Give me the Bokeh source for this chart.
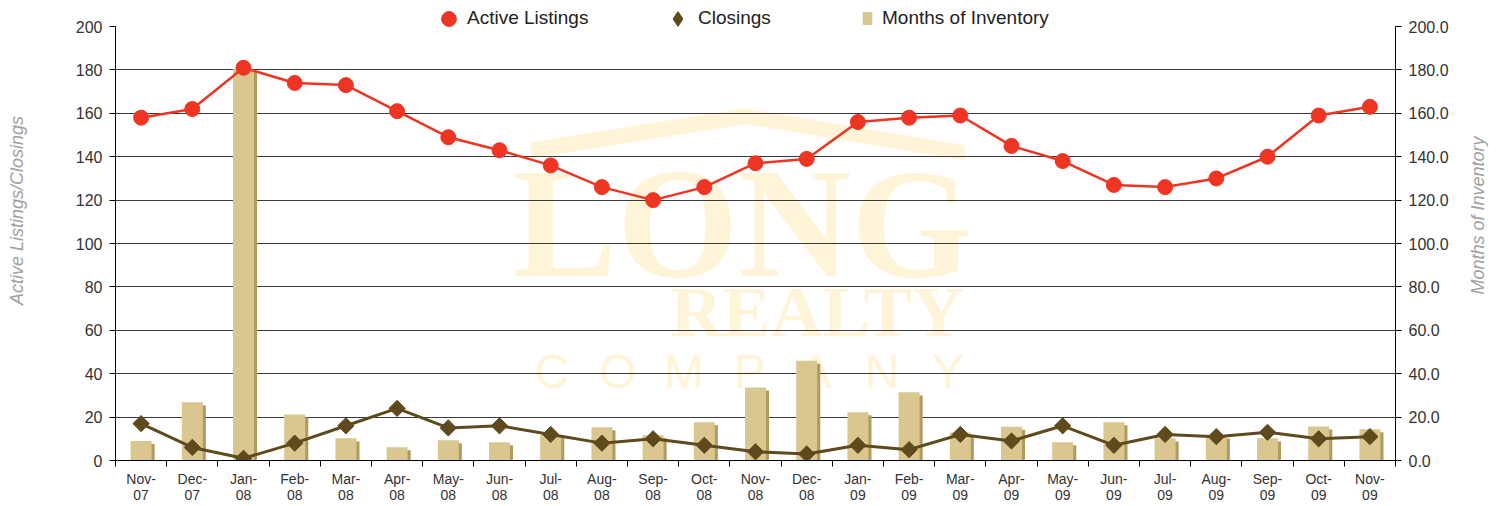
import math
from bokeh.plotting import figure
from bokeh.layouts import row
from bokeh.models import (Range1d, LinearAxis, FixedTicker, Legend, LegendItem,
                          NumeralTickFormatter, ColumnDataSource)
from bokeh.transform import dodge
from bokeh.core.properties import value
from bokeh.embed import file_html
from bokeh.resources import INLINE

# ---------------- data ----------------
months = ["Nov-\n07", "Dec-\n07", "Jan-\n08", "Feb-\n08", "Mar-\n08", "Apr-\n08",
          "May-\n08", "Jun-\n08", "Jul-\n08", "Aug-\n08", "Sep-\n08", "Oct-\n08",
          "Nov-\n08", "Dec-\n08", "Jan-\n09", "Feb-\n09", "Mar-\n09", "Apr-\n09",
          "May-\n09", "Jun-\n09", "Jul-\n09", "Aug-\n09", "Sep-\n09", "Oct-\n09",
          "Nov-\n09"]
active_listings = [158, 162, 181, 174, 173, 161, 149, 143, 136, 126, 120, 126,
                   137, 139, 156, 158, 159, 145, 138, 127, 126, 130, 140, 159, 163]
closings = [17, 6, 1, 8, 16, 24, 15, 16, 12, 8, 10, 7,
            4, 3, 7, 5, 12, 9, 16, 7, 12, 11, 13, 10, 11]
months_inventory = [9.0, 26.8, 180.6, 21.2, 10.2, 6.1, 9.3, 8.4, 11.8, 15.3, 11.6, 17.6,
                    33.7, 46.0, 22.2, 31.4, 12.9, 15.6, 8.4, 17.6, 10.2, 11.5, 10.2, 15.7, 14.4]
left_ticks = list(range(0, 201, 20))
grid_ticks = list(range(20, 181, 20))

FONT = "Liberation Sans"
RED = "#EE3524"
BROWN = "#5E4A1C"
TAN = "#DAC68F"
TAN_DARK = "#B49A5C"
WM = "#FFF3D8"
NB = "\u00a0"
H = 505

n = len(months)
xs = [i + 0.5 for i in range(n)]
src = ColumnDataSource(dict(
    x=xs,
    active=active_listings,
    closings=closings,
    inv=months_inventory,
    inv_shadow=[v - 1.4 for v in months_inventory],
))

# y range reaches a little above 200 so that the legend row fits inside the frame
Y_TOP = 212
p = figure(width=1455, height=H, x_range=Range1d(0, n), y_range=Range1d(0, Y_TOP),
           output_backend="svg", toolbar_location=None,
           min_border_left=115, min_border_right=60, min_border_bottom=44,
           min_border_top=0, outline_line_color=None, background_fill_color="white")
p.extra_y_ranges = {"moi": Range1d(0, Y_TOP)}

# ---------------- watermark (decorative) ----------------
p.patch([8.11, 12.3, 16.6, 16.6, 12.3, 8.11], [146.7, 162.3, 145.3, 138.4, 155.0, 139.3],
        fill_color=WM, line_color=None, level="image")
p.text(x=[12.25], y=[109.4], text=["LONG"], text_font=value("Liberation Serif"),
       text_font_style="bold", text_font_size="156px", text_color=WM,
       text_align="center", text_baseline="middle", level="image")
p.text(x=[13.7], y=[68.5], text=["REALTY"], text_font=value("Liberation Serif"),
       text_font_style="bold", text_font_size="72px", text_color=WM,
       text_align="center", text_baseline="middle", level="image")
company = list("COMPANY")
p.text(x=[8.52 + 1.29 * i for i in range(len(company))], y=[40.9] * len(company),
       text=company, text_font=value(FONT), text_font_size="48px", text_color=WM,
       text_align="center", text_baseline="middle", level="image")

# ---------------- bars ----------------
p.vbar(x=dodge("x", 0.06, range=p.x_range), top="inv_shadow", width=0.41, source=src,
       y_range_name="moi", fill_color=TAN_DARK, line_color=None)
r_bar = p.vbar(x="x", top="inv", width=0.41, source=src, y_range_name="moi",
               fill_color=TAN, line_color=None)

# ---------------- lines ----------------
p.line("x", "closings", source=src, line_color=BROWN, line_width=3)
p.scatter("x", "closings", source=src, marker="square", angle=math.pi / 4,
          size=11.5, fill_color=BROWN, line_color=BROWN)
p.line("x", "active", source=src, line_color=RED, line_width=2.5)
r_ac = p.scatter("x", "active", source=src, marker="circle", size=15,
                 fill_color=RED, line_color=RED)
# legend-only glyph for the closings diamond (a single NaN point, never drawn)
r_cl_leg = p.scatter(x=[float("nan")], y=[float("nan")], marker="diamond",
                     fill_color=BROWN, line_color=BROWN)

# ---------------- axes ----------------
def style_y(ax):
    ax.ticker = FixedTicker(ticks=left_ticks)
    ax.bounds = (0, 200)
    ax.major_label_text_font = FONT
    ax.major_label_text_font_size = "16px"
    ax.major_label_text_color = "#333333"
    ax.axis_line_color = "black"
    ax.major_tick_line_color = "black"
    ax.major_tick_out = 6
    ax.major_tick_in = 0
    ax.minor_tick_line_color = None
    ax.major_label_standoff = 7
    ax.axis_label_text_font = FONT
    ax.axis_label_text_font_size = "18px"
    ax.axis_label_text_font_style = "italic"
    ax.axis_label_text_color = "#A0A0A0"

ya = p.yaxis[0]
style_y(ya)
ya.axis_label = NB * 8 + "Active Listings/Closings"
ya.axis_label_standoff = 46

ra = LinearAxis(y_range_name="moi", formatter=NumeralTickFormatter(format="0.0"))
style_y(ra)
p.add_layout(ra, "right")

xa = p.xaxis[0]
xa.ticker = FixedTicker(ticks=xs, minor_ticks=list(range(n + 1)))
xa.major_label_overrides = {x: m for x, m in zip(xs, months)}
xa.major_tick_line_color = None
xa.major_tick_out = 0
xa.major_tick_in = 0
xa.minor_tick_line_color = "black"
xa.minor_tick_out = 6
xa.minor_tick_in = 0
xa.axis_line_color = "black"
xa.major_label_text_font = FONT
xa.major_label_text_font_size = "14px"
xa.major_label_text_line_height = 1.0
xa.major_label_text_color = "#333333"
xa.major_label_standoff = 4

p.xgrid.visible = False
p.ygrid.ticker = FixedTicker(ticks=grid_ticks)
p.ygrid.grid_line_color = "#3a3a3a"
p.ygrid.grid_line_width = 1

# ---------------- legend (three pieces so each symbol gets its own size) ----------------
common = dict(orientation="horizontal", border_line_color=None, background_fill_alpha=0,
              label_text_font=FONT, label_text_font_size="19px", label_text_color="#222222",
              padding=0, margin=0)
leg1 = Legend(items=[LegendItem(label="Active Listings", renderers=[r_ac])],
              location=(315, 423.5), glyph_width=37, glyph_height=37, label_standoff=0,
              label_height=37, **common)
leg2 = Legend(items=[LegendItem(label="Closings", renderers=[r_cl_leg])],
              location=(544, 423.5), glyph_width=37, glyph_height=37, label_standoff=2,
              label_height=37, **common)
leg3 = Legend(items=[LegendItem(label="Months of Inventory", renderers=[r_bar])],
              location=(746, 430.5), glyph_width=12, glyph_height=16, label_standoff=9,
              label_height=23, **common)
for lg in (leg1, leg2, leg3):
    p.add_layout(lg, "center")

# ---------------- right-hand axis title (narrow companion figure) ----------------
p2 = figure(width=41, height=H, x_range=Range1d(0, 41), y_range=Range1d(0, H),
            output_backend="svg", toolbar_location=None, min_border=0,
            outline_line_color=None, background_fill_color="white")
p2.axis.visible = False
p2.grid.visible = False
p2.text(x=[22], y=[H - 236], text=["Months of Inventory"], angle=math.pi / 2,
        text_font=value(FONT), text_font_size="18px", text_font_style="italic",
        text_color="#A0A0A0", text_align="center", text_baseline="middle")

layout = row(p, p2, spacing=0)
open("out.html", "w").write(file_html(layout, INLINE))
